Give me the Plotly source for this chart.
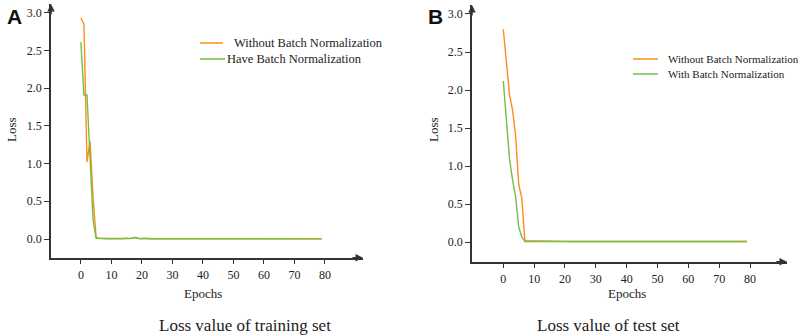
import plotly.graph_objects as go

epochs = list(range(80))

train_without_bn = [
    2.93, 2.85, 1.02, 1.30, 0.55, 0.02, 0.010, 0.010, 0.008, 0.006,
    0.005, 0.005, 0.004, 0.004, 0.006, 0.014, 0.005, 0.012, 0.020, 0.008,
    0.004, 0.012, 0.004, 0.003, 0.003, 0.003, 0.003, 0.003, 0.003, 0.003,
    0.003, 0.003, 0.003, 0.003, 0.003, 0.003, 0.003, 0.003, 0.003, 0.004,
    0.012, 0.004, 0.003, 0.004, 0.010, 0.003, 0.003, 0.003, 0.003, 0.003,
    0.003, 0.003, 0.003, 0.003, 0.003, 0.003, 0.003, 0.003, 0.003, 0.003,
    0.002, 0.002, 0.002, 0.002, 0.002, 0.002, 0.002, 0.002, 0.002, 0.002,
    0.002, 0.002, 0.002, 0.002, 0.002, 0.002, 0.002, 0.002, 0.002, 0.002,
]
train_with_bn = [
    2.61, 1.91, 1.91, 1.05, 0.25, 0.010, 0.006, 0.005, 0.004, 0.004,
    0.004, 0.003, 0.003, 0.003, 0.003, 0.004, 0.006, 0.015, 0.020, 0.006,
    0.003, 0.003, 0.003, 0.003, 0.003, 0.003, 0.003, 0.003, 0.003, 0.003,
    0.003, 0.003, 0.003, 0.003, 0.003, 0.003, 0.003, 0.003, 0.003, 0.003,
    0.003, 0.003, 0.003, 0.003, 0.003, 0.003, 0.003, 0.003, 0.003, 0.003,
    0.002, 0.002, 0.002, 0.002, 0.002, 0.002, 0.002, 0.002, 0.002, 0.002,
    0.002, 0.002, 0.002, 0.002, 0.002, 0.002, 0.002, 0.002, 0.002, 0.002,
    0.002, 0.002, 0.002, 0.002, 0.002, 0.002, 0.002, 0.002, 0.002, 0.002,
]
test_without_bn = [
    2.80, 2.35, 1.94, 1.74, 1.40, 0.76, 0.58, 0.020, 0.020, 0.020,
    0.020, 0.020, 0.020, 0.020, 0.020, 0.020, 0.020, 0.020, 0.020, 0.020,
    0.012, 0.010, 0.010, 0.010, 0.010, 0.010, 0.010, 0.010, 0.010, 0.010,
    0.010, 0.010, 0.010, 0.010, 0.010, 0.010, 0.010, 0.010, 0.010, 0.010,
    0.010, 0.010, 0.010, 0.010, 0.010, 0.010, 0.010, 0.010, 0.010, 0.010,
    0.010, 0.010, 0.010, 0.010, 0.010, 0.010, 0.010, 0.010, 0.010, 0.010,
    0.010, 0.010, 0.010, 0.010, 0.010, 0.010, 0.010, 0.010, 0.010, 0.010,
    0.010, 0.010, 0.010, 0.010, 0.010, 0.010, 0.010, 0.010, 0.010, 0.010,
]
test_with_bn = [
    2.12, 1.65, 1.10, 0.82, 0.60, 0.20, 0.07, 0.010, 0.010, 0.010,
    0.010, 0.010, 0.010, 0.010, 0.010, 0.010, 0.010, 0.010, 0.010, 0.010,
    0.010, 0.010, 0.010, 0.010, 0.010, 0.010, 0.010, 0.010, 0.010, 0.010,
    0.010, 0.010, 0.010, 0.010, 0.010, 0.010, 0.010, 0.010, 0.010, 0.010,
    0.010, 0.010, 0.010, 0.010, 0.010, 0.010, 0.010, 0.010, 0.010, 0.010,
    0.010, 0.010, 0.010, 0.010, 0.010, 0.010, 0.010, 0.010, 0.010, 0.010,
    0.010, 0.010, 0.010, 0.010, 0.010, 0.010, 0.010, 0.010, 0.010, 0.010,
    0.010, 0.010, 0.010, 0.010, 0.010, 0.010, 0.010, 0.010, 0.010, 0.010,
]

x_ticks = [0, 10, 20, 30, 40, 50, 60, 70, 80]
y_ticks = [0.0, 0.5, 1.0, 1.5, 2.0, 2.5, 3.0]

ORANGE = "#FF8C1A"
GREEN = "#72BF44"
AXIS = "#333333"
SERIF = "Liberation Serif"
W, H = 803, 335

fig = go.Figure()
fig.add_trace(go.Scatter(x=epochs, y=train_without_bn, mode="lines",
                         line=dict(color=ORANGE, width=1.4), xaxis="x", yaxis="y", showlegend=False))
fig.add_trace(go.Scatter(x=epochs, y=train_with_bn, mode="lines",
                         line=dict(color=GREEN, width=1.4), xaxis="x", yaxis="y", showlegend=False))
fig.add_trace(go.Scatter(x=epochs, y=test_without_bn, mode="lines",
                         line=dict(color=ORANGE, width=1.4), xaxis="x2", yaxis="y2", showlegend=False))
fig.add_trace(go.Scatter(x=epochs, y=test_with_bn, mode="lines",
                         line=dict(color=GREEN, width=1.4), xaxis="x2", yaxis="y2", showlegend=False))

def px_x(p):
    return p / W

def px_y(p):
    return 1 - p / H

axis_common = dict(showline=True, linecolor=AXIS, linewidth=1.5, showgrid=False, zeroline=False,
                   ticks="outside", ticklen=5, tickcolor=AXIS, tickwidth=1,
                   tickfont=dict(family=SERIF, size=12, color="#222222"))

fig.update_layout(
    width=W, height=H, margin=dict(l=0, r=0, t=0, b=0),
    paper_bgcolor="white", plot_bgcolor="white",
    font=dict(family=SERIF),
    xaxis=dict(domain=[px_x(51), px_x(363)], range=[-9.8, 92.5], tickvals=x_ticks,
               anchor="y", **axis_common),
    yaxis=dict(domain=[px_y(257.7), px_y(4)], range=[-0.248, 3.116], tickvals=y_ticks,
               tickformat=".1f", anchor="x", **axis_common),
    xaxis2=dict(domain=[px_x(472), px_x(787)], range=[-10.15, 92.0], tickvals=x_ticks,
                anchor="y2", **axis_common),
    yaxis2=dict(domain=[px_y(261.7), px_y(5)], range=[-0.255, 3.118], tickvals=y_ticks,
                tickformat=".1f", anchor="x2", **axis_common),
)

annotations = []
shapes = []

# axis arrows
for xr, yr in (("x", "y"), ("x2", "y2")):
    annotations.append(dict(xref=xr + " domain", yref=yr + " domain", x=0, y=1, ax=0, ay=12,
                            axref="pixel", ayref="pixel", showarrow=True, arrowhead=2,
                            arrowsize=1, arrowwidth=1.5, arrowcolor=AXIS, text=""))
    annotations.append(dict(xref=xr + " domain", yref=yr + " domain", x=1, y=0, ax=-12, ay=0,
                            axref="pixel", ayref="pixel", showarrow=True, arrowhead=2,
                            arrowsize=1, arrowwidth=1.5, arrowcolor=AXIS, text=""))

def text(x, y, s, size, family=SERIF, xanchor="center", yanchor="middle", angle=0, bold=False, color="#222222"):
    annotations.append(dict(xref="paper", yref="paper", x=px_x(x), y=px_y(y), text=("<b>%s</b>" % s) if bold else s,
                            showarrow=False, xanchor=xanchor, yanchor=yanchor, textangle=angle,
                            font=dict(family=family, size=size, color=color)))

# panel letters
text(14.5, 16, "A", 21, family="Liberation Sans", bold=True, color="#111111")
text(435.5, 16, "B", 21, family="Liberation Sans", bold=True, color="#111111")

# axis titles
text(11, 130, "Loss", 13, angle=-90)
text(433, 130, "Loss", 13, angle=-90)
text(203, 293, "Epochs", 13)
text(627, 293, "Epochs", 13)

# captions
text(245, 325, "Loss value of training set", 17)
text(608, 325, "Loss value of test set", 17)

# legends
def legend_line(x0, x1, y, color):
    shapes.append(dict(type="line", xref="paper", yref="paper", x0=px_x(x0), x1=px_x(x1),
                       y0=px_y(y), y1=px_y(y), line=dict(color=color, width=1.5)))

legend_line(200, 223, 43, ORANGE)
text(232, 43, "Without Batch Normalization", 12.5, xanchor="left")
legend_line(200, 225, 59, GREEN)
text(225, 59, "Have Batch Normalization", 12.5, xanchor="left")

legend_line(633, 658, 59, ORANGE)
text(666, 59, "Without Batch Normalization", 11, xanchor="left")
legend_line(633, 658, 74, GREEN)
text(666, 74, "With Batch Normalization", 11, xanchor="left")

fig.update_layout(annotations=annotations, shapes=shapes)

fig.write_html("out.html", config={"displayModeBar": False},
               post_script="document.body.style.margin='0';document.body.style.overflow='hidden';")
